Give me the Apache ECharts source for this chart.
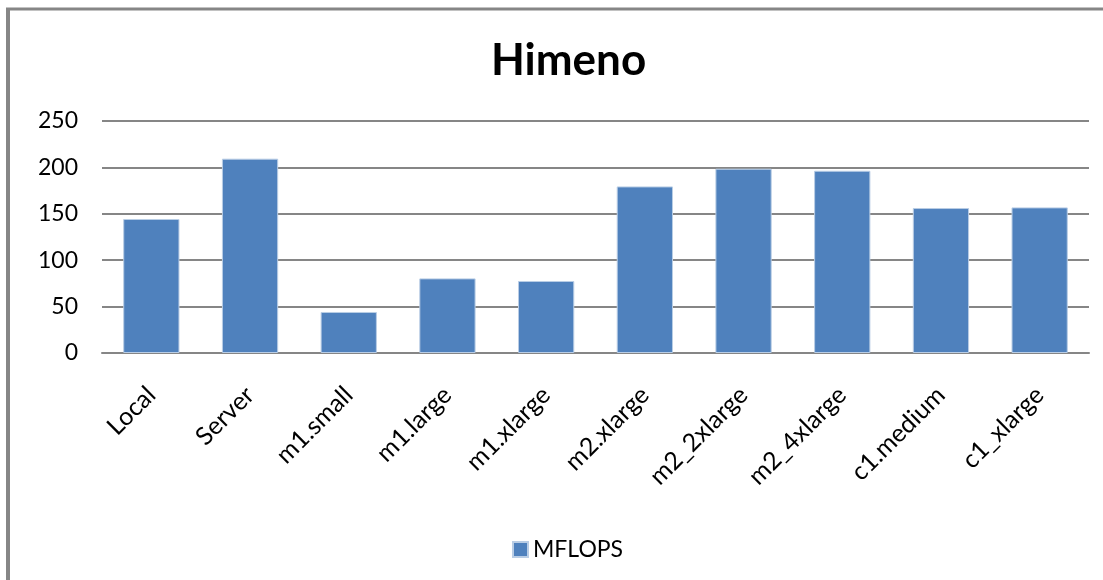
<!DOCTYPE html>
<html><head><meta charset="utf-8">
<script src="https://cdn.jsdelivr.net/npm/echarts@6/dist/echarts.min.js"></script>
<style>html,body{margin:0;padding:0;background:#fff;overflow:hidden}#c{width:1103px;height:580px}</style>
</head><body><div id="c"></div>
<script>
const categories = ['Local','Server','m1.small','m1.large','m1.xlarge','m2.xlarge','m2_2xlarge','m2_4xlarge','c1.medium','c1_xlarge'];
const mflops = [144.4, 209.4, 44.2, 80.4, 77.6, 179.5, 198.6, 196.4, 156.2, 156.9];
const yTicks = [0, 50, 100, 150, 200, 250];
const seriesName = 'MFLOPS';
const titleText = 'Himeno';

const chart = echarts.init(document.getElementById('c'), null, {renderer:'canvas'});
const F = 'Lato, "Open Sans", sans-serif';
chart.setOption({
  animation: false,
  backgroundColor: '#fff',
  graphic: [
    {type:'line', shape:{x1:6, y1:9, x2:1103, y2:9}, style:{stroke:'#868686', lineWidth:3}, z:-1},
    {type:'line', shape:{x1:8, y1:8, x2:8, y2:580}, style:{stroke:'#868686', lineWidth:4}, z:-1}
  ],
  title: {text: titleText, left: 486, top: 34, textStyle:{fontFamily:F, fontSize:44, fontWeight:'bold', color:'#000'}},
  legend: {top: 533, left: 507, itemWidth: 15, itemHeight: 15, itemGap: 6, icon: 'rect',
    textStyle:{fontFamily:F, fontSize:23, color:'#000'}, data:[seriesName]},
  grid: {left: 102, right: 14, top: 121, bottom: 227},
  xAxis: {type:'category', data: categories,
    axisLine:{show:true, lineStyle:{color:'#868686', width:2}},
    axisTick:{show:false},
    axisLabel:{rotate:45, margin:38, interval:0, fontFamily:F, fontSize:25, color:'#000'}},
  yAxis: {type:'value', min: yTicks[0], max: yTicks[yTicks.length-1], interval: 50,
    axisLine:{show:false}, axisTick:{show:false},
    splitLine:{lineStyle:{color:'#868686', width:2}},
    axisLabel:{margin:24, fontFamily:F, fontSize:23, color:'#000'}},
  series: [{name: seriesName, type:'bar', data: mflops, barWidth:'57%',
    itemStyle:{color:'#4F81BD', borderColor:'#B9CDE5', borderWidth:1}}]
});
</script></body></html>
